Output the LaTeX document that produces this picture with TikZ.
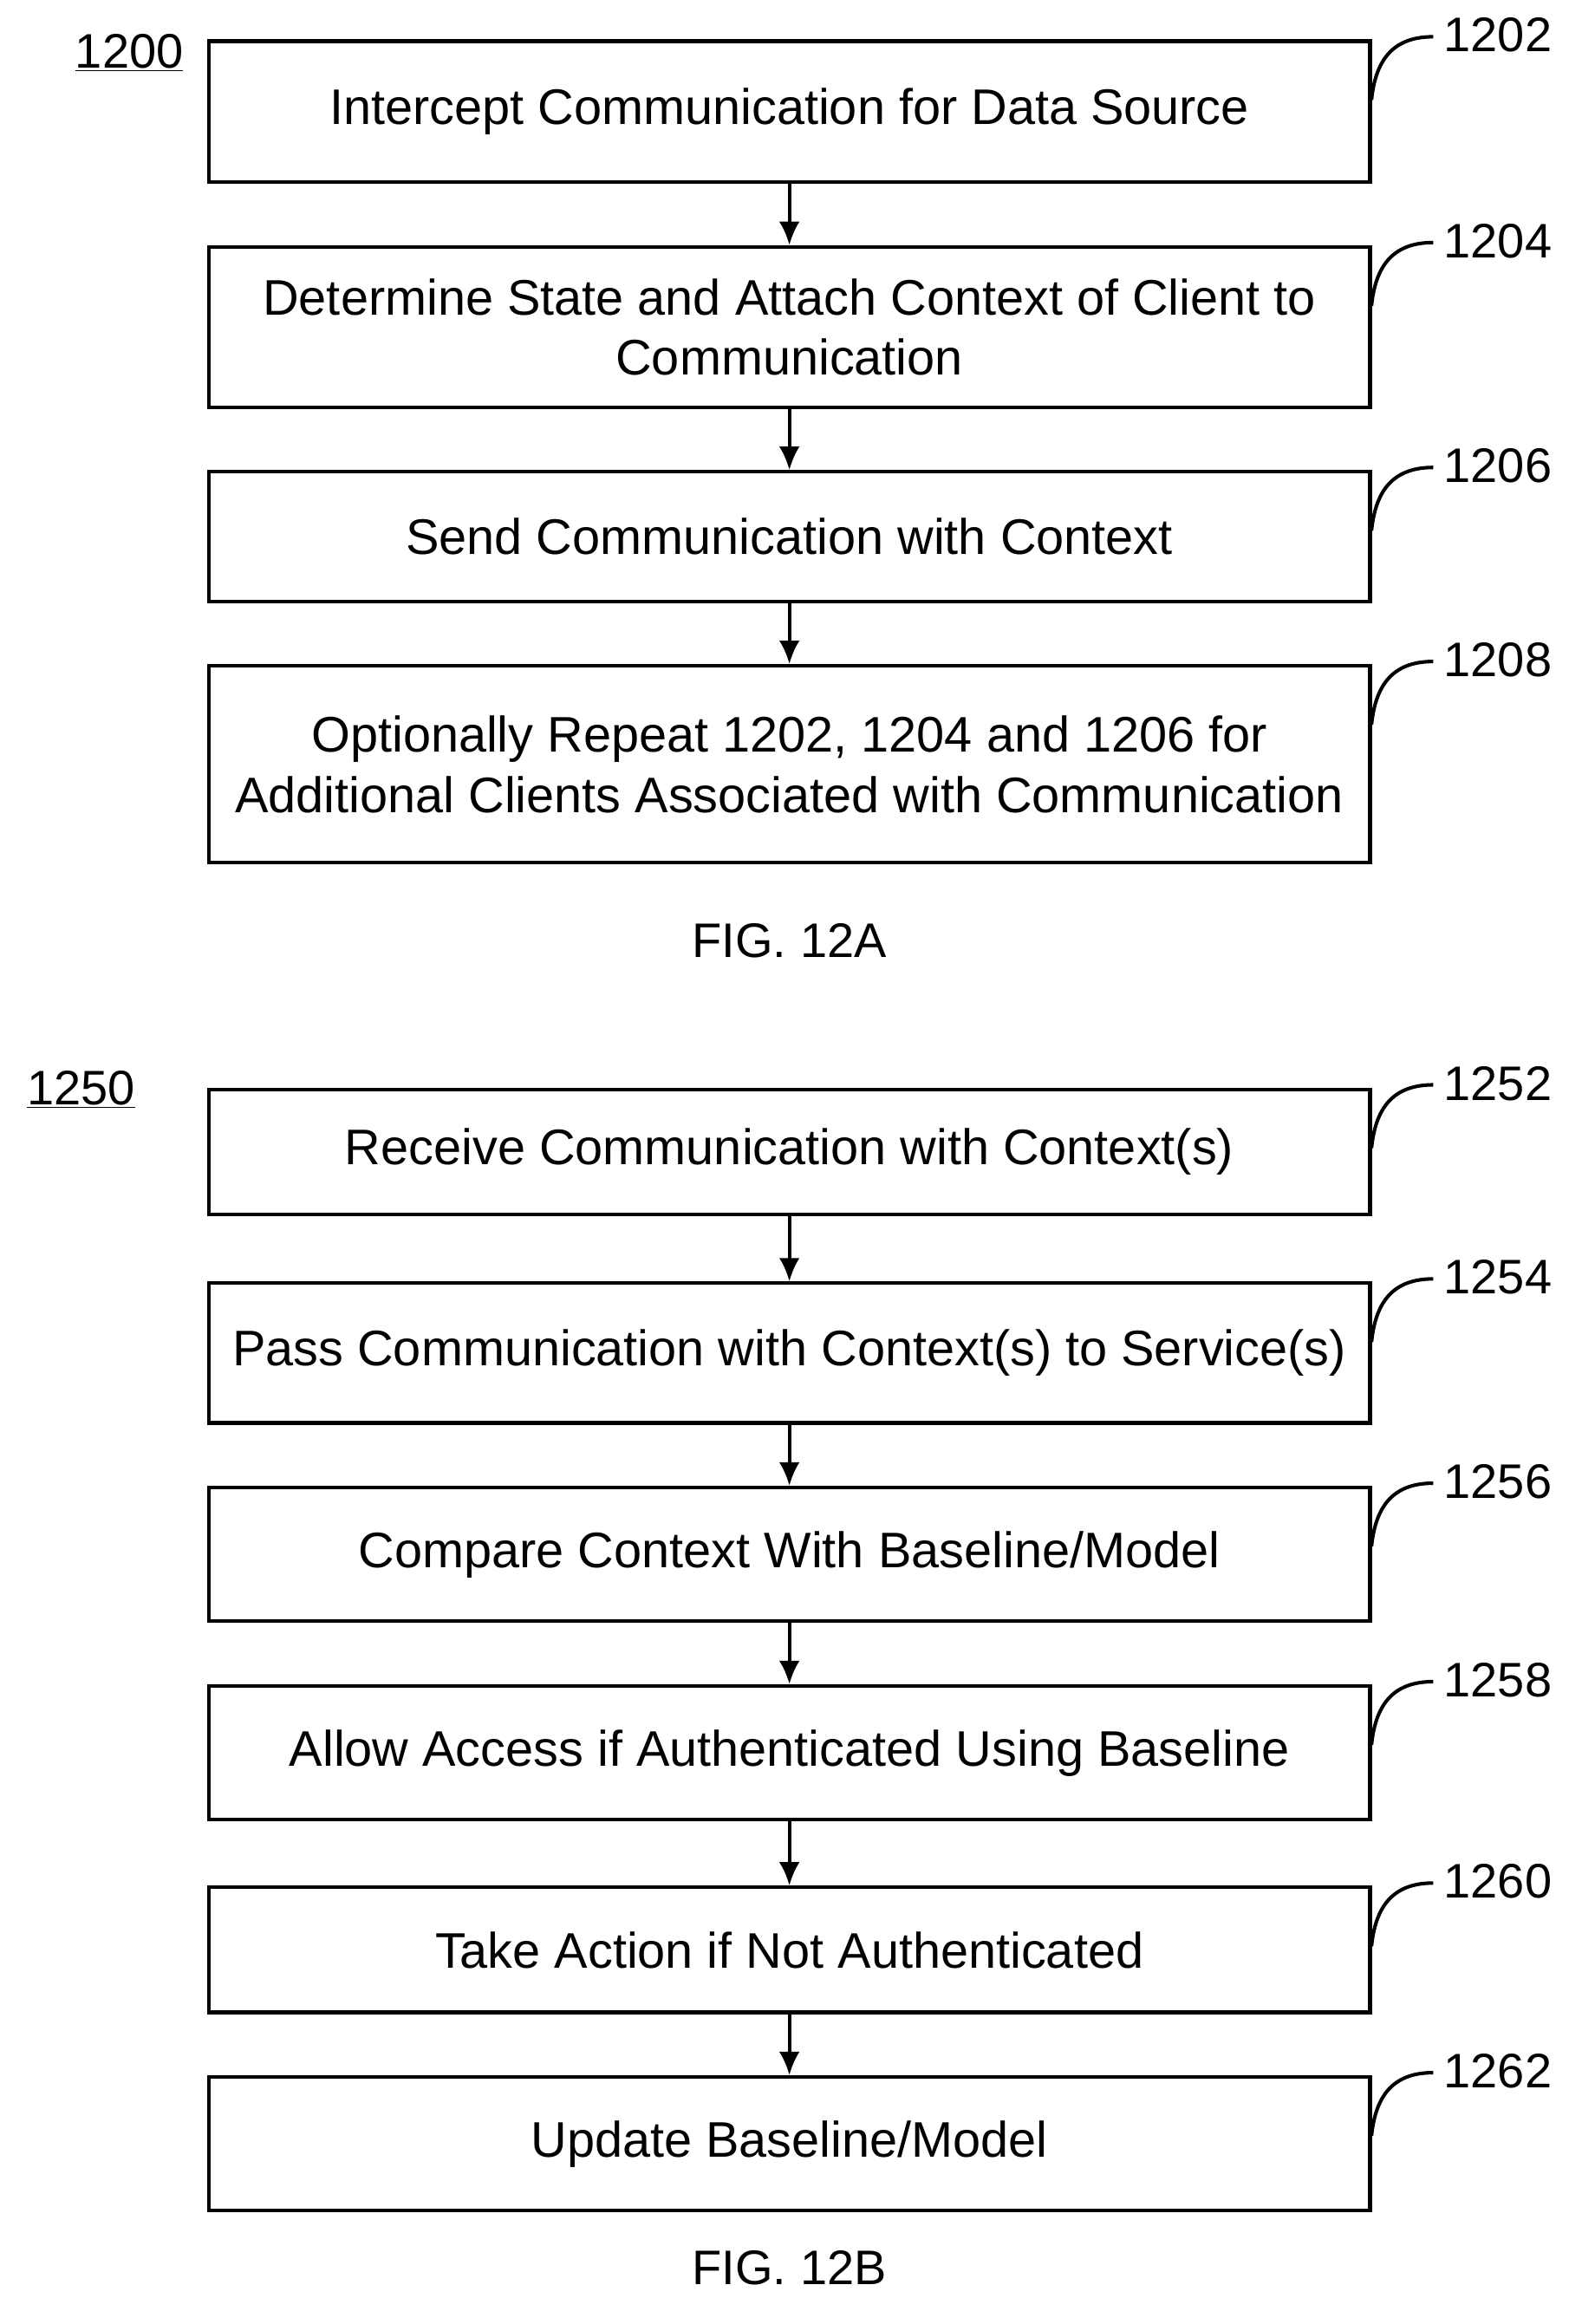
\documentclass[tikz,border=0pt]{standalone}
\usepackage{fontspec}
\setmainfont{Liberation Sans}
\usetikzlibrary{arrows.meta}
\begin{document}
\begin{tikzpicture}[x=1pt,y=-1pt,
  box/.style={draw,line width=2.4pt,minimum width=790pt,align=center,inner sep=0pt,font=\fontsize{34}{41}\selectfont},
  arr/.style={-{Latex[length=16pt,width=14pt]},line width=2.4pt},
  lbl/.style={font=\fontsize{33}{38}\selectfont,anchor=center},
  lead/.style={line width=2.4pt}]
\useasboundingbox (0,0) rectangle (1076,1581);
\def\bx#1#2#3#4{% name, top, bottom, text
  \pgfmathsetmacro\hh{#3-#2}%
  \node[box,minimum height=\hh pt] (#1) at (537,{(#2+#3)/2}) {#4};}
\bx{b1}{28}{124}{Intercept Communication for Data Source}
\bx{b2}{168}{277}{Determine State and Attach Context of Client to\\Communication}
\bx{b3}{321}{409}{Send Communication with Context}
\bx{b4}{453}{587}{Optionally Repeat 1202, 1204 and 1206 for\\Additional Clients Associated with Communication}
\bx{c1}{741}{826}{Receive Communication with Context(s)}
\bx{c2}{873}{968}{Pass Communication with Context(s) to Service(s)}
\bx{c3}{1012}{1103}{Compare Context With Baseline/Model}
\bx{c4}{1147}{1238}{Allow Access if Authenticated Using Baseline}
\bx{c5}{1284}{1369}{Take Action if Not Authenticated}
\bx{c6}{1413}{1504}{Update Baseline/Model}
\foreach \a/\b in {b1/b2,b2/b3,b3/b4,c1/c2,c2/c3,c3/c4,c4/c5,c5/c6}
  \draw[arr] (\a.south) -- (\b.north);
\foreach \n/\t/\l in {b1/28/1202,b2/168/1204,b3/321/1206,b4/453/1208,c1/741/1252,c2/873/1254,c3/1012/1256,c4/1147/1258,c5/1284/1260,c6/1413/1262}{
  \coordinate (e\n) at (975,\t-3);
  \draw[lead] (933,\t+40) .. controls (936,\t+10) and (950,\t-3) .. (e\n);
  \node[lbl] (l\n) at (1019,\t-4) {\l};
}
\node[lbl] (n1200) at (88,36) {\underline{1200}};
\node[lbl] (n1250) at (55,741) {\underline{1250}};
\node[lbl] (f12a) at (537,640) {FIG. 12A};
\node[lbl] (f12b) at (537,1543) {FIG. 12B};
\end{tikzpicture}
\end{document}
